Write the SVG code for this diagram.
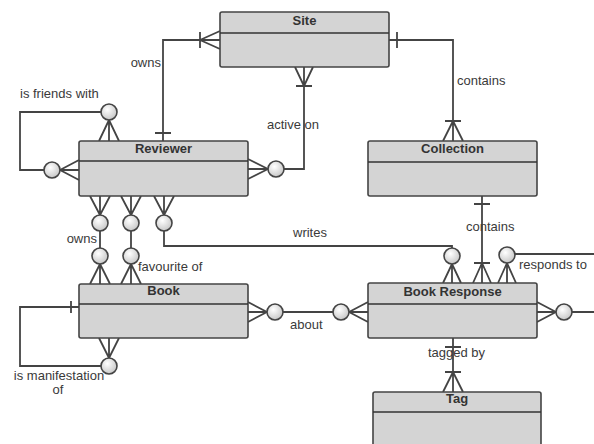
<svg xmlns="http://www.w3.org/2000/svg" width="594" height="444" viewBox="0 0 594 444">
<defs>
<radialGradient id="cg" cx="0.4" cy="0.35" r="0.7">
<stop offset="0" stop-color="#ffffff"/>
<stop offset="1" stop-color="#c4c4c4"/>
</radialGradient>
</defs>
<style>
.ent{fill:#d4d4d4;stroke:#444;stroke-width:1.6}
.hd{stroke:#333;stroke-width:1.3}
.tt{font-family:"Liberation Sans",Arial,sans-serif;font-weight:bold;font-size:13px;fill:#333;text-anchor:middle}
.lb{font-family:"Liberation Sans",Arial,sans-serif;font-size:13px;fill:#3a3a3a}
.cn{fill:none;stroke:#444;stroke-width:1.8}
.ci{fill:url(#cg);stroke:#444;stroke-width:1.6}
</style>
<rect width="594" height="444" fill="#ffffff"/>
<g id="connectors">
<!-- Site - Reviewer owns -->
<path class="cn" d="M163,141 V40 H220 M155,133 H171 M200,32 V48 M200,40 L220,31 M200,40 L220,49"/>
<!-- active on -->
<path class="cn" d="M284,169 H304 V67 M296,86 H312 M304,86 L295,67 M304,86 L313,67 M268,169 L248,159 M268,169 L248,179 M268,169 H248"/>
<circle class="ci" cx="276" cy="169" r="8"/>
<!-- Site - Collection contains -->
<path class="cn" d="M389,40 H453 V141 M397,32 V48 M445,121 H461 M453,121 L443,141 M453,121 L463,141"/>
<!-- is friends with -->
<path class="cn" d="M101,112 H20 V170 H44 M109,120 L99,141 M109,120 L119,141 M109,120 V141 M60,170 L79,160 M60,170 L79,180 M60,170 H79"/>
<circle class="ci" cx="109" cy="112" r="8"/>
<circle class="ci" cx="52" cy="170" r="8"/>
<!-- Reviewer - Book owns -->
<path class="cn" d="M100,231 V248 M100,215 L90,196 M100,215 L110,196 M100,215 V196 M100,264 L90,284 M100,264 L110,284 M100,264 V284"/>
<circle class="ci" cx="100" cy="223" r="8"/>
<circle class="ci" cx="100" cy="256" r="8"/>
<!-- favourite of -->
<path class="cn" d="M131,231 V248 M131,215 L121,196 M131,215 L141,196 M131,215 V196 M131,264 L121,284 M131,264 L141,284 M131,264 V284"/>
<circle class="ci" cx="131" cy="223" r="8"/>
<circle class="ci" cx="131" cy="256" r="8"/>
<!-- writes -->
<path class="cn" d="M164,231 V246 H452 V248 M164,215 L154,196 M164,215 L174,196 M164,215 V196 M452,264 L443,283 M452,264 L461,283 M452,264 V283"/>
<circle class="ci" cx="164" cy="223" r="8"/>
<circle class="ci" cx="452" cy="256" r="8"/>
<!-- about -->
<path class="cn" d="M283,312 H333 M267,312 L248,302 M267,312 L248,322 M267,312 H248 M349,312 L368,302 M349,312 L368,322 M349,312 H368"/>
<circle class="ci" cx="275" cy="312" r="8"/>
<circle class="ci" cx="341" cy="312" r="8"/>
<!-- Collection - Book Response contains -->
<path class="cn" d="M482,196 V283 M474,204 H490 M474,263 H490 M482,263 L473,283 M482,263 L491,283"/>
<!-- responds to -->
<path class="cn" d="M515,254 H594 M507,263 L498,283 M507,263 L516,283 M507,263 V283 M572,312 H594 M556,312 L537,302 M556,312 L537,322 M556,312 H537"/>
<circle class="ci" cx="507" cy="255" r="8"/>
<circle class="ci" cx="564" cy="312" r="8"/>
<!-- tagged by -->
<path class="cn" d="M453,338 V392 M445,347 H461 M445,372 H461 M453,372 L443,392 M453,372 L463,392"/>
<!-- is manifestation of -->
<path class="cn" d="M79,307 H20 V366 H101 M71,301 V313 M109,358 L99,338 M109,358 L119,338 M109,358 V338"/>
<circle class="ci" cx="109" cy="366" r="8"/>
</g>
<g id="labels">
<text class="lb" x="161" y="67" text-anchor="end">owns</text>
<text class="lb" x="267" y="129">active on</text>
<text class="lb" x="457" y="85">contains</text>
<text class="lb" x="20" y="98">is friends with</text>
<text class="lb" x="97" y="243" text-anchor="end">owns</text>
<text class="lb" x="138" y="271">favourite of</text>
<text class="lb" x="293" y="237">writes</text>
<text class="lb" x="290" y="329">about</text>
<text class="lb" x="466" y="231">contains</text>
<text class="lb" x="519" y="269">responds to</text>
<text class="lb" x="428" y="357">tagged by</text>
<text class="lb" x="59" y="380" text-anchor="middle">is manifestation</text>
<text class="lb" x="58" y="394" text-anchor="middle">of</text>
</g>
<g id="site">
<rect class="ent" x="220" y="12" width="169" height="55" rx="2"/>
<line class="hd" x1="220" y1="33" x2="389" y2="33"/>
<text class="tt" x="304.5" y="25">Site</text>
</g>
<g id="reviewer">
<rect class="ent" x="79" y="141" width="169" height="55" rx="2"/>
<line class="hd" x1="79" y1="161" x2="248" y2="161"/>
<text class="tt" x="163.5" y="153">Reviewer</text>
</g>
<g id="collection">
<rect class="ent" x="368" y="141" width="169" height="55" rx="2"/>
<line class="hd" x1="368" y1="162" x2="537" y2="162"/>
<text class="tt" x="452.5" y="153">Collection</text>
</g>
<g id="book">
<rect class="ent" x="79" y="284" width="169" height="54" rx="2"/>
<line class="hd" x1="79" y1="304" x2="248" y2="304"/>
<text class="tt" x="163.5" y="295">Book</text>
</g>
<g id="book-response">
<rect class="ent" x="368" y="283" width="169" height="55" rx="2"/>
<line class="hd" x1="368" y1="304" x2="537" y2="304"/>
<text class="tt" x="452.5" y="295.5">Book Response</text>
</g>
<g id="tag">
<rect class="ent" x="373" y="392" width="168" height="62" rx="2"/>
<line class="hd" x1="373" y1="412" x2="541" y2="412"/>
<text class="tt" x="457" y="403">Tag</text>
</g>
</svg>
